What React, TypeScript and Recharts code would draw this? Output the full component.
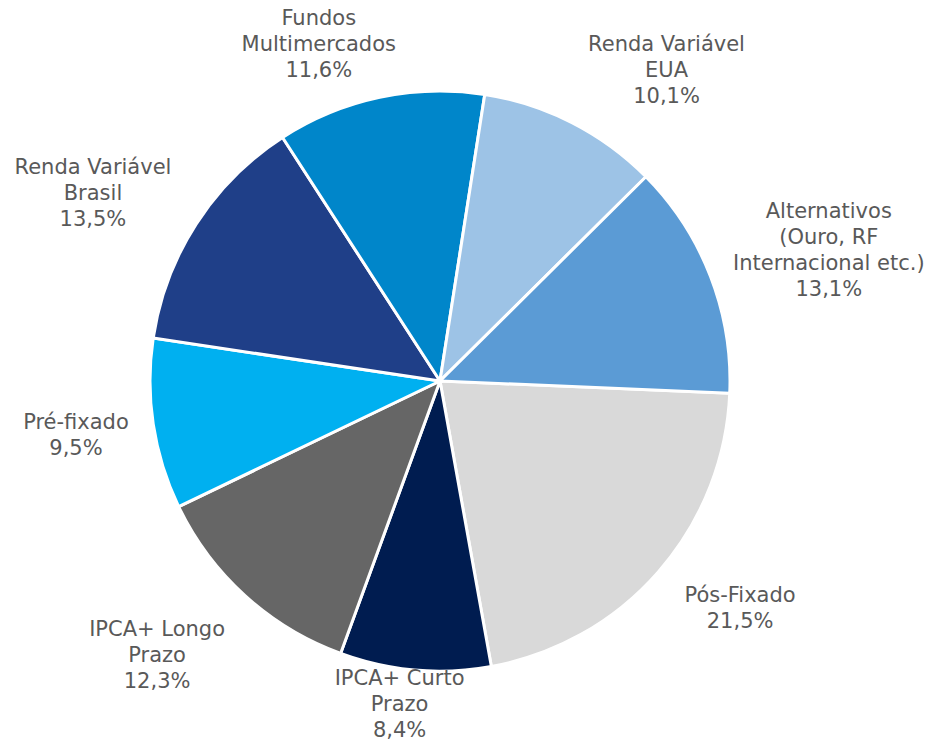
import React from "react";
import { PieChart, Pie, Cell } from "recharts";

const categories = [
  "Pós-Fixado",
  "IPCA+ Curto\nPrazo",
  "IPCA+ Longo\nPrazo",
  "Pré-fixado",
  "Renda Variável\nBrasil",
  "Fundos\nMultimercados",
  "Renda Variável\nEUA",
  "Alternativos\n(Ouro, RF\nInternacional etc.)",
];
const values = [21.5, 8.4, 12.3, 9.5, 13.5, 11.6, 10.1, 13.1];
const valueLabels = ["21,5%", "8,4%", "12,3%", "9,5%", "13,5%", "11,6%", "10,1%", "13,1%"];
const colors = ["#D9D9D9", "#001C50", "#666666", "#00B0F0", "#1F3F88", "#0086CA", "#9DC3E6", "#5B9BD5"];

// small per-label nudges (style), in px
const labelNudge: [number, number][] = [
  [14, -3], [6, 0], [-17, 5], [-5, 0], [-13, 19], [0, 5], [12, 4], [0, 19],
];

const data = categories.map((name, i) => ({ name, value: values[i], pct: valueLabels[i] }));

const W = 930;
const H = 746;
const FONT = 21;
const LINE = 26;
const RAD = Math.PI / 180;
const clamp = (v: number, lo: number, hi: number) => Math.max(lo, Math.min(hi, v));

const renderLabel = (props: any) => {
  const { cx, cy, midAngle, outerRadius, index } = props;
  const lines = [...categories[index].split("\n"), valueLabels[index]];
  const maxChars = Math.max(...lines.map((l) => l.length));
  const w = maxChars * 10.5;
  const h = lines.length * LINE;
  const c = Math.cos(-midAngle * RAD);
  const s = Math.sin(-midAngle * RAD);
  const ar = outerRadius + 20;
  const ax = cx + ar * c;
  const ay = cy + ar * s;
  let bx = ax + (w / 2) * clamp(c * 4, -1, 1) + labelNudge[index][0];
  let by = ay + (h / 2) * clamp(s * 2, -1, 1) + labelNudge[index][1];
  bx = clamp(bx, w / 2, W - w / 2);
  by = clamp(by, h / 2, H - h / 2 - 3);
  const y0 = by - ((lines.length - 1) * LINE) / 2;
  return (
    <text
      key={`lbl-${index}`}
      x={bx}
      y={y0}
      textAnchor="middle"
      fill="#595959"
      fontSize={FONT}
      fontFamily="'DejaVu Sans', sans-serif"
    >
      {lines.map((l, i) => (
        <tspan key={i} x={bx} y={y0 + i * LINE} dominantBaseline="central">
          {l}
        </tspan>
      ))}
    </text>
  );
};

export default function App() {
  return (
    <div style={{ position: "absolute", left: 0, top: 0, width: W, height: H, background: "#fff" }}>
      <PieChart width={W} height={H} margin={{ top: 0, right: 0, bottom: 0, left: 0 }}>
        <Pie
          data={data}
          dataKey="value"
          nameKey="name"
          cx={440}
          cy={381}
          outerRadius={290}
          startAngle={-2.4}
          endAngle={-362.4}
          stroke="#ffffff"
          strokeWidth={3}
          label={renderLabel}
          labelLine={false}
          isAnimationActive={false}
        >
          {data.map((d, i) => (
            <Cell key={d.name} fill={colors[i]} />
          ))}
        </Pie>
      </PieChart>
    </div>
  );
}
